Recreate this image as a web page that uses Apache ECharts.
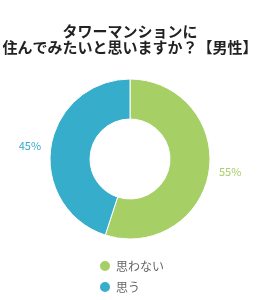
<!DOCTYPE html>
<html>
<head>
<meta charset="utf-8">
<script src="https://cdn.jsdelivr.net/npm/echarts@6/dist/echarts.min.js"></script>
<style>
  html, body { margin: 0; padding: 0; background: #fff; }
  #main { width: 260px; height: 300px; }
</style>
</head>
<body>
<div id="main"></div>
<script>
// データ
const titleText = 'タワーマンションに\n住んでみたいと思いますか？【男性】';
const categories = ['思わない', '思う'];
const values = [55, 45];
const colors = ['#a6cf66', '#35adcb'];

const myChart = echarts.init(document.getElementById('main'));

const option = {
  color: colors,
  title: {
    text: titleText,
    left: 'center',
    top: 23,
    padding: 0,
    textStyle: {
      fontFamily: 'Noto Sans CJK JP',
      fontSize: 15,
      fontWeight: 'bold',
      color: '#222',
      lineHeight: 16
    }
  },
  legend: {
    orient: 'vertical',
    left: 98,
    top: 259,
    padding: 0,
    height: 40,
    itemWidth: 12,
    itemHeight: 12,
    itemGap: 7,
    icon: 'circle',
    data: categories,
    textStyle: {
      fontFamily: 'Noto Sans CJK JP',
      fontSize: 12,
      color: '#666'
    }
  },
  series: [
    {
      type: 'pie',
      center: [130, 159],
      radius: [40, 80],
      startAngle: 90,
      clockwise: true,
      avoidLabelOverlap: false,
      label: {
        show: true,
        position: 'outside',
        formatter: '{c}%',
        fontFamily: 'Noto Sans CJK JP',
        fontSize: 11,
        color: 'inherit'
      },
      labelLine: { show: false, length: 3, length2: 2 },
      itemStyle: { borderColor: '#fff', borderWidth: 1 },
      data: categories.map((name, i) => ({ name: name, value: values[i] }))
    }
  ]
};

myChart.setOption(option);
</script>
</body>
</html>
